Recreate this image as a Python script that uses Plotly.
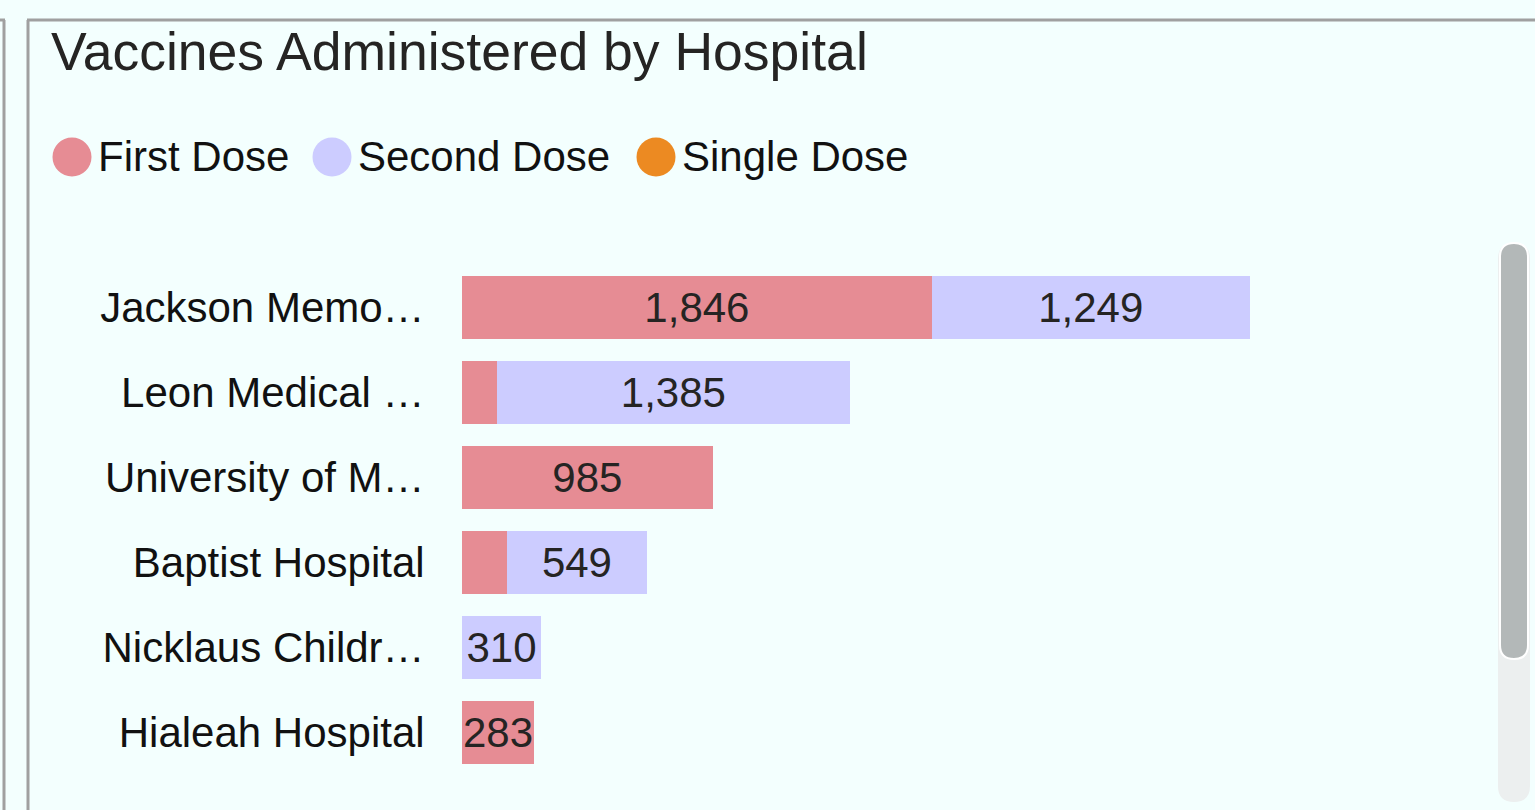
import plotly.graph_objects as go

# ---- data ----
hospitals = ["Jackson Memorial Hospital", "Leon Medical Centers", "University of Miami Hospital",
             "Baptist Hospital", "Nicklaus Children's Hospital", "Hialeah Hospital"]
tick_labels = ["Jackson Memo…", "Leon Medical …", "University of M…",
               "Baptist Hospital", "Nicklaus Childr…", "Hialeah Hospital"]
first_dose = [1846, 138, 985, 177, 0, 283]
second_dose = [1249, 1385, 0, 549, 310, 0]
single_dose = [0, 0, 0, 0, 0, 0]
series_names = ["First Dose", "Second Dose", "Single Dose"]
series_colors = ["#E68C94", "#CCCCFF", "#EC8A22"]

W, H = 1535, 810
PL, PR, PT, PB = 462, 1480, 265, 775  # plot area in pixels
BG = "#F3FFFE"
FONT = "Liberation Sans, Arial, sans-serif"


def px(x):
    return (x - PL) / (PR - PL)


def py(y):
    return (PB - y) / (PB - PT)


def labels(vals):
    return [f"{v:,}" if v >= 250 else "" for v in vals]


fig = go.Figure()
for name, vals, col in zip(series_names, [first_dose, second_dose, single_dose], series_colors):
    fig.add_trace(go.Bar(
        y=hospitals, x=vals, name=name, orientation="h",
        marker=dict(color=col, line=dict(width=0)),
        text=labels(vals), textposition="inside", insidetextanchor="middle",
        textangle=0, textfont=dict(size=42, color="#252423", family=FONT),
        hoverinfo="skip", showlegend=False,
    ))

shapes = []
annotations = []

# borders
line_col = "#A0A0A0"
shapes += [
    dict(type="line", xref="paper", yref="paper", x0=px(28), x1=px(28), y0=py(20), y1=py(812),
         line=dict(color=line_col, width=3)),
    dict(type="line", xref="paper", yref="paper", x0=px(27), x1=px(1537), y0=py(20), y1=py(20),
         line=dict(color=line_col, width=3)),
    dict(type="line", xref="paper", yref="paper", x0=px(4), x1=px(4), y0=py(20), y1=py(812),
         line=dict(color=line_col, width=3)),
    dict(type="line", xref="paper", yref="paper", x0=px(-2), x1=px(5), y0=py(20), y1=py(20),
         line=dict(color=line_col, width=3)),
]

# legend (circles + text)
leg_x = [72, 332, 656]
leg_y = 157
r = 19.5
for name, col, cx in zip(series_names, series_colors, leg_x):
    shapes.append(dict(type="circle", xref="paper", yref="paper",
                       x0=px(cx - r), x1=px(cx + r), y0=py(leg_y + r), y1=py(leg_y - r),
                       fillcolor=col, line=dict(width=0)))
    annotations.append(dict(xref="paper", yref="paper", x=px(cx + r + 4), y=py(leg_y - 1),
                            text=name, showarrow=False, xanchor="left", yanchor="middle",
                            font=dict(size=42, color="#111111", family=FONT)))

# title
annotations.append(dict(xref="paper", yref="paper", x=px(49), y=py(52),
                        text="Vaccines Administered by Hospital", showarrow=False,
                        xanchor="left", yanchor="middle",
                        font=dict(size=53.5, color="#252423", family=FONT)))


def rrect(x0, y0, x1, y1, rad):
    pts = [
        f"M {px(x0)},{py(y0 + rad)}",
        f"Q {px(x0)},{py(y0)} {px(x0 + rad)},{py(y0)}",
        f"L {px(x1 - rad)},{py(y0)}",
        f"Q {px(x1)},{py(y0)} {px(x1)},{py(y0 + rad)}",
        f"L {px(x1)},{py(y1 - rad)}",
        f"Q {px(x1)},{py(y1)} {px(x1 - rad)},{py(y1)}",
        f"L {px(x0 + rad)},{py(y1)}",
        f"Q {px(x0)},{py(y1)} {px(x0)},{py(y1 - rad)}",
        "Z",
    ]
    return " ".join(pts)


# scrollbar
shapes.append(dict(type="path", xref="paper", yref="paper", path=rrect(1498, 243, 1530, 802, 16),
                   fillcolor="#ECEFEF", line=dict(width=0)))
shapes.append(dict(type="path", xref="paper", yref="paper", path=rrect(1500, 243, 1528, 659, 14),
                   fillcolor="#B3B8B8", line=dict(color="white", width=2)))

fig.update_layout(
    barmode="stack", bargap=0.26,
    width=W, height=H, autosize=False,
    margin=dict(l=PL, r=W - PR, t=PT, b=H - PB, pad=0),
    paper_bgcolor=BG, plot_bgcolor=BG,
    font=dict(family=FONT, color="#111111"),
    uniformtext=dict(minsize=42, mode="show"),
    showlegend=False,
    shapes=shapes, annotations=annotations,
    xaxis=dict(range=[0, 4000], visible=False, fixedrange=True),
    yaxis=dict(type="category", categoryorder="array", categoryarray=hospitals,
               tickmode="array", tickvals=hospitals, ticktext=tick_labels,
               range=[5.5, -0.5], showgrid=False, zeroline=False, showline=False,
               ticks="outside", ticklen=28, tickcolor="rgba(0,0,0,0)",
               tickfont=dict(size=42, color="#111111", family=FONT), fixedrange=True),
)

fig.write_html(
    "out.html",
    config={"displayModeBar": False},
    post_script="document.body.style.margin='0';document.body.style.overflow='hidden';"
                "document.documentElement.style.overflow='hidden';",
)
